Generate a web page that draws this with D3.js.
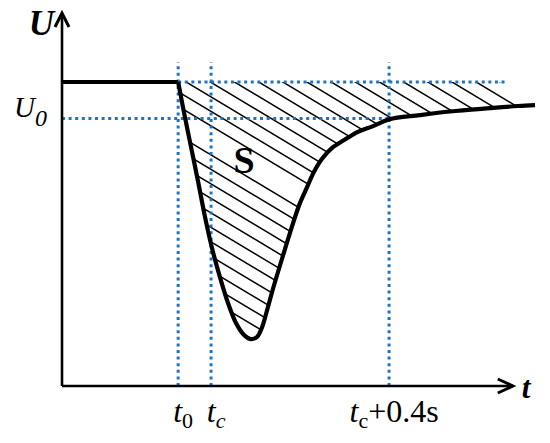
<!DOCTYPE html>
<html>
<head>
<meta charset="utf-8">
<script src="https://cdn.jsdelivr.net/npm/d3@7"></script>
<style>
html, body { margin: 0; padding: 0; background: #fff; }
svg { display: block; }
</style>
</head>
<body>
<svg id="chart" width="550" height="443" font-family="Liberation Serif, Times New Roman, serif"></svg>
<script>
"use strict";

// voltage dip curve: time (s) and voltage (pre-fault level = 1)
const curveT = [0.261, 0.274, 0.290, 0.306, 0.321, 0.337, 0.353, 0.373, 0.391, 0.407,
                0.422, 0.438, 0.449, 0.461, 0.474, 0.497, 0.515, 0.533, 0.551, 0.566,
                0.584, 0.607, 0.634, 0.665, 0.699, 0.735, 0.804, 0.872, 0.962, 1.025, 1.063];
const curveU = [1.000, 0.901, 0.786, 0.671, 0.559, 0.454, 0.368, 0.273, 0.207, 0.171,
                0.155, 0.161, 0.191, 0.250, 0.319, 0.431, 0.516, 0.595, 0.655, 0.704,
                0.747, 0.783, 0.809, 0.836, 0.855, 0.877, 0.891, 0.903, 0.914, 0.921, 0.924];

// marked instants and levels
const T0 = 0.261, TC = 0.335, TC4 = TC + 0.4;
const U_PRE = 1.0, U0 = 0.88;

// tick labels on the t axis
const tickTimes = [T0, TC, TC4];
const tickBase = ["t", "t", "t"];
const tickSub = ["0", "c", "c"];
const tickSubItalic = [false, true, false];
const tickTail = ["", "", "+0.4s"];

// extents
const T_AXIS_END = 1.013, U_AXIS_END = 1.227;
const U_GUIDE_TOP = 1.066, T_GUIDE_END = 1.002;
const T_HATCH_TOP_END = 0.984, T_HATCH_CURVE_END = 1.025;
const S_T = 0.409, S_U = 0.70;

const BLUE = "#1f74c2";

const svg = d3.select("#chart");
const x = d3.scaleLinear().domain([0, 1]).range([62, 507]);
const y = d3.scaleLinear().domain([0, 1]).range([386, 82]);

const curvePts = curveT.map((t, i) => [t, curveU[i]]);
const straight = d3.line().x(d => x(d[0])).y(d => y(d[1]));
const smooth = d3.line().x(d => x(d[0])).y(d => y(d[1])).curve(d3.curveCatmullRom.alpha(0.5));

// ---- hatched area S ----
const defs = svg.append("defs");
const hatchEdge = curvePts.filter(p => p[0] <= T_HATCH_CURVE_END).reverse();
defs.append("clipPath").attr("id", "hatchClip")
    .append("path")
    .attr("d", straight([[T0, U_PRE], [T_HATCH_TOP_END, U_PRE]]) +
               "L" + smooth(hatchEdge).slice(1) + "Z");

// diagonal hatch, one stroke left out where the S sits
const slope = 0.6, vgap = 14.5;
const sx = x(S_T), sy = y(S_U) - 13;
const hatchK = d3.range(-40, 20).filter(k => k !== 0);
svg.append("g")
    .attr("clip-path", "url(#hatchClip)")
    .selectAll("line")
    .data(hatchK)
    .enter().append("line")
    .attr("x1", 100)
    .attr("y1", k => sy + k * vgap + slope * (100 - sx))
    .attr("x2", 600)
    .attr("y2", k => sy + k * vgap + slope * (600 - sx))
    .attr("stroke", "#000")
    .attr("stroke-width", 1.5);

// ---- blue dotted guides ----
const guides = [
    [[T0, 0], [T0, U_GUIDE_TOP]],
    [[TC, 0], [TC, U_GUIDE_TOP]],
    [[TC4, 0], [TC4, U_GUIDE_TOP]],
    [[T0, U_PRE], [T_GUIDE_END, U_PRE]],
    [[0, U0], [TC4, U0]]
];
svg.append("g").selectAll("path")
    .data(guides)
    .enter().append("path")
    .attr("d", d => straight(d))
    .attr("fill", "none")
    .attr("stroke", BLUE)
    .attr("stroke-width", 3)
    .attr("stroke-dasharray", "3 3.6");

// ---- voltage trace ----
svg.append("path")
    .attr("d", straight([[0, U_PRE], [T0, U_PRE]]))
    .attr("stroke", "#000")
    .attr("stroke-width", 4)
    .attr("fill", "none");

svg.append("path")
    .attr("d", smooth(curvePts))
    .attr("stroke", "#000")
    .attr("stroke-width", 4.2)
    .attr("stroke-linejoin", "round")
    .attr("fill", "none");

// ---- axes with open arrow heads ----
const axes = svg.append("g").attr("stroke", "#000").attr("fill", "none").attr("stroke-width", 2.6);
axes.append("path").attr("d", straight([[0, 0], [T_AXIS_END, 0]]));
axes.append("path").attr("d", straight([[0, 0], [0, U_AXIS_END]]));

const xt = x(T_AXIS_END), yt = y(U_AXIS_END);
axes.append("path")
    .attr("d", `M${xt - 15},${y(0) - 7}L${xt},${y(0)}L${xt - 15},${y(0) + 7}`)
    .attr("stroke-width", 3).attr("stroke-linejoin", "miter");
axes.append("path")
    .attr("d", `M${x(0) - 7},${yt + 14}L${x(0)},${yt}L${x(0) + 7},${yt + 14}`)
    .attr("stroke-width", 3).attr("stroke-linejoin", "miter");

// ---- axis names ----
svg.append("text")
    .attr("x", x(0) - 8).attr("y", yt + 22)
    .attr("text-anchor", "end")
    .attr("font-size", 35).attr("font-weight", "bold").attr("font-style", "italic")
    .text("U");

svg.append("text")
    .attr("x", xt + 9).attr("y", y(0) + 12)
    .attr("font-size", 31).attr("font-weight", "bold").attr("font-style", "italic")
    .text("t");

// U0 level label
const u0 = svg.append("text")
    .attr("x", x(0) - 15).attr("y", y(U0) - 1)
    .attr("text-anchor", "end")
    .attr("font-size", 29).attr("font-style", "italic");
u0.append("tspan").text("U");
u0.append("tspan").attr("dy", 9).attr("font-size", 24).text("0");

// tick labels
const ticks = svg.append("g").selectAll("text")
    .data(tickTimes)
    .enter().append("text")
    .attr("x", d => x(d) + 5)
    .attr("y", y(0) + 36)
    .attr("text-anchor", "middle")
    .attr("font-size", 32);
ticks.append("tspan").attr("font-style", "italic").text((d, i) => tickBase[i]);
ticks.append("tspan")
    .attr("dy", 6).attr("font-size", 22)
    .attr("font-style", (d, i) => tickSubItalic[i] ? "italic" : "normal")
    .text((d, i) => tickSub[i]);
ticks.append("tspan").attr("dy", -6).text((d, i) => tickTail[i]);

// area label
svg.append("text")
    .attr("x", sx).attr("y", y(S_U))
    .attr("text-anchor", "middle")
    .attr("font-size", 38).attr("font-weight", "bold")
    .text("S");
</script>
</body>
</html>
